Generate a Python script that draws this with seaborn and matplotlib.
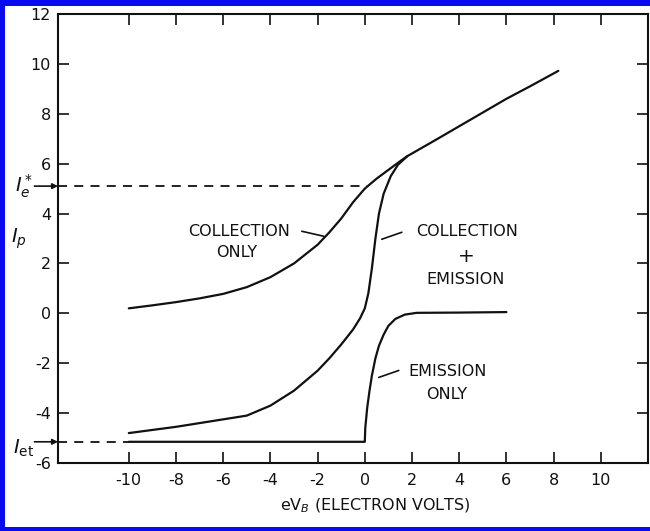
import matplotlib
matplotlib.use("Agg")
import matplotlib.pyplot as plt
import seaborn as sns
from matplotlib.patches import Rectangle
from matplotlib.transforms import blended_transform_factory

# Plate current vs. bias energy for the three probe regimes
coll_x = [-10, -9, -8, -7, -6, -5, -4, -3, -2, -1.5, -1, -0.5, 0, 0.5, 1, 1.5, 1.8,
          3, 4, 5, 6, 7, 8.2]
coll_y = [0.2, 0.32, 0.45, 0.6, 0.78, 1.05, 1.45, 2.0, 2.75, 3.25, 3.8, 4.45, 5.0,
          5.4, 5.75, 6.1, 6.3, 6.95, 7.5, 8.05, 8.6, 9.1, 9.72]

both_x = [-10, -8, -6, -5, -4, -3, -2, -1.5, -1, -0.5, -0.2, 0.0, 0.15, 0.3, 0.45,
          0.6, 0.8, 1.1, 1.4, 1.8]
both_y = [-4.8, -4.55, -4.25, -4.1, -3.7, -3.1, -2.3, -1.8, -1.25, -0.65, -0.2, 0.2,
          0.8, 1.8, 3.0, 4.0, 4.8, 5.5, 5.95, 6.3]

emis_x = [-10, 0, 0.02, 0.1, 0.2, 0.3, 0.45, 0.6, 0.8, 1.0, 1.3, 1.7, 2.2, 4, 6]
emis_y = [-5.15, -5.15, -4.6, -3.8, -3.1, -2.5, -1.8, -1.3, -0.85, -0.5, -0.22,
          -0.05, 0.02, 0.03, 0.05]

ie_star = 5.1
i_et = -5.15

x_ticks = [-10, -8, -6, -4, -2, 0, 2, 4, 6, 8, 10]
x_labels = ["-10", "-8", "-6", "-4", "-2", "0", "2", "4", "6", "8", "10"]
y_ticks = [-6, -4, -2, 0, 2, 4, 6, 8, 10, 12]
y_labels = ["-6", "-4", "-2", "0", "2", "4", "6", "8", "10", "12"]

sns.set_style("ticks")
plt.rcParams['font.family'] = ['DejaVu Sans']
plt.rcParams['axes.unicode_minus'] = False
plt.rcParams['mathtext.fontset'] = 'dejavusans'

ink = '#111111'
fig = plt.figure(figsize=(6.5, 5.31), dpi=100)
ax = fig.add_axes([58 / 650, 68 / 531, 590 / 650, 449 / 531])

for xs, ys in ((coll_x, coll_y), (both_x, both_y), (emis_x, emis_y)):
    sns.lineplot(x=xs, y=ys, ax=ax, color=ink, linewidth=1.6, sort=False,
                 estimator=None)

# Saturation levels
dash = (0, (5, 4))
ax.plot([-13, 0.1], [ie_star, ie_star], color=ink, lw=1.3, linestyle=dash)
ax.plot([-13, -10], [i_et, i_et], color=ink, lw=1.3, linestyle=dash)

ax.set_xlim(-13, 12)
ax.set_ylim(-6, 12)
ax.set_xticks(x_ticks)
ax.set_xticklabels(x_labels)
ax.set_yticks(y_ticks)
ax.set_yticklabels(y_labels)
ax.tick_params(direction='in', top=True, right=True, length=8, width=1.2,
               labelsize=11.5, colors=ink)
ax.tick_params(axis='x', pad=7)
ax.tick_params(axis='y', pad=5)
for s in ax.spines.values():
    s.set_linewidth(1.5)
    s.set_color(ink)

ax.set_xlabel(r'eV$_{B}$ (ELECTRON VOLTS)', fontsize=11.5, color=ink)
ax.xaxis.set_label_coords(0.537, -0.075)
ax.set_ylabel(r'$I_p$', fontsize=14, rotation=0, color=ink, va='center', ha='center')
ax.yaxis.set_label_coords(-0.066, 0.50)

# Side markers for the saturation currents
tr = blended_transform_factory(ax.transAxes, ax.transData)
for val, lab, dy in ((ie_star, r'$I_e^*$', 0.0), (i_et, r'$I_{\rm et}$', -0.25)):
    ax.annotate('', xy=(0, val), xytext=(-0.04, val), xycoords=tr, textcoords=tr,
                arrowprops=dict(arrowstyle='-|>', color=ink, lw=1.2,
                                mutation_scale=8, shrinkA=0, shrinkB=0),
                annotation_clip=False)
    ax.text(-0.058, val + dy, lab, transform=tr, fontsize=14, color=ink,
            ha='center', va='center', clip_on=False)

# Curve labels with leader lines
fs = 11.5
ax.text(-5.34, 3.29, 'COLLECTION', fontsize=fs, ha='center', va='center', color=ink)
ax.text(-5.42, 2.45, 'ONLY', fontsize=fs, ha='center', va='center', color=ink)
ax.plot([-2.67, -1.74], [3.29, 3.09], color=ink, lw=1.2)

ax.text(4.32, 3.29, 'COLLECTION', fontsize=fs, ha='center', va='center', color=ink)
ax.text(4.32, 2.29, '+', fontsize=fs + 3, ha='center', va='center', color=ink)
ax.text(4.28, 1.37, 'EMISSION', fontsize=fs, ha='center', va='center', color=ink)
ax.plot([0.72, 1.57], [2.97, 3.25], color=ink, lw=1.2)

ax.text(3.52, -2.33, 'EMISSION', fontsize=fs, ha='center', va='center', color=ink)
ax.text(3.47, -3.25, 'ONLY', fontsize=fs, ha='center', va='center', color=ink)
ax.plot([0.59, 1.44], [-2.57, -2.29], color=ink, lw=1.2)

# Blue frame
blue = '#0a0af0'
for rect in ((0, 0, 5 / 650, 1), (0, 1 - 6 / 531, 1, 6 / 531), (0, 0, 1, 4 / 531)):
    fig.patches.append(Rectangle(rect[:2], rect[2], rect[3], transform=fig.transFigure,
                                 facecolor=blue, edgecolor='none', zorder=10))

fig.savefig('out.png', dpi=100)
